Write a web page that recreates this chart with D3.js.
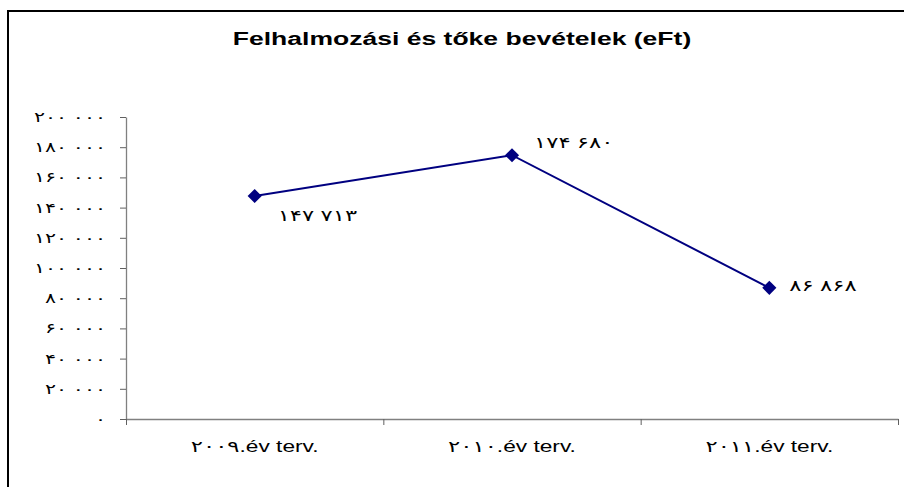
<!DOCTYPE html>
<html>
<head>
<meta charset="utf-8">
<script src="https://cdn.jsdelivr.net/npm/d3@7"></script>
<style>
  body { margin: 0; background: #fff; }
  svg { display: block; }
  text { font-family: "Liberation Sans", Arial, "DejaVu Sans", sans-serif; fill: #000; }
</style>
</head>
<body>
<div id="chart"></div>
<script>
// chart data
const categories = ["۲۰۰۹.év terv.", "۲۰۱۰.év terv.", "۲۰۱۱.év terv."];
const values = [147713, 174680, 86868];
const yTicks = [0, 20000, 40000, 60000, 80000, 100000, 120000, 140000, 160000, 180000, 200000];
const titleText = "Felhalmozási és tőke bevételek (eFt)";
// label offsets from the marker, per point
const labelOffsets = [[23, 25], [22, -7], [20, 3]];

const width = 904, height = 487;
const stretch = 1.42; // text in the reference is drawn wide

// persian digits, space as thousands separator
const fa = d3.formatLocale({
  decimal: ".",
  thousands: " ",
  grouping: [3],
  currency: ["", ""],
  numerals: ["۰", "۱", "۲", "۳", "۴", "۵", "۶", "۷", "۸", "۹"]
});
const fmt = fa.format(",d");

const svg = d3.select("#chart").append("svg")
  .attr("width", width)
  .attr("height", height);

// outer chart border (cut off at right and bottom)
svg.append("rect")
  .attr("x", 8).attr("y", 11)
  .attr("width", 1000).attr("height", 600)
  .attr("fill", "none")
  .attr("stroke", "#000")
  .attr("stroke-width", 2);

svg.append("text")
  .attr("transform", `translate(462,45) scale(${1.45},1)`)
  .attr("text-anchor", "middle")
  .style("font-size", "18.3px")
  .style("font-weight", "bold")
  .text(titleText);

const plot = {left: 126, right: 898, top: 117, bottom: 419};

const x = d3.scaleBand()
  .domain(categories)
  .range([plot.left, plot.right]);

const xEdge = d3.scaleLinear()
  .domain([0, categories.length])
  .range([plot.left, plot.right]);

const y = d3.scaleLinear()
  .domain([0, 200000])
  .range([plot.bottom, plot.top]);

// y axis
const gy = svg.append("g")
  .attr("transform", `translate(${plot.left},0)`)
  .call(d3.axisLeft(y).tickValues(yTicks).tickSize(6).tickSizeOuter(0).tickFormat(""));

gy.selectAll("text").remove();
gy.select(".domain").attr("stroke", "#808080").attr("stroke-width", 1.3);
gy.selectAll(".tick line").attr("stroke", "#606060");

svg.append("g").selectAll("text")
  .data(yTicks)
  .enter()
  .append("text")
  .attr("transform", d => `translate(106,${y(d) + 5}) scale(${stretch},1)`)
  .attr("text-anchor", "end")
  .style("font-size", "14.5px")
  .text(d => fmt(d));

// x axis, ticks between categories
const gx = svg.append("g")
  .attr("transform", `translate(0,${plot.bottom})`)
  .call(d3.axisBottom(xEdge).tickValues(d3.range(categories.length + 1)).tickSize(6).tickSizeOuter(0).tickFormat(""));

gx.select(".domain").attr("stroke", "#808080").attr("stroke-width", 1.3);
gx.selectAll(".tick line").attr("stroke", "#606060");

svg.append("g").selectAll("text")
  .data(categories)
  .enter()
  .append("text")
  .attr("transform", d => `translate(${x(d) + x.bandwidth() / 2},452) scale(${stretch},1)`)
  .attr("text-anchor", "middle")
  .style("font-size", "16px")
  .text(d => d);

// line
const pts = values.map((v, i) => ({cat: categories[i], v: v, off: labelOffsets[i]}));

const line = d3.line()
  .x(d => x(d.cat) + x.bandwidth() / 2)
  .y(d => y(d.v));

svg.append("path")
  .datum(pts)
  .attr("d", line)
  .attr("fill", "none")
  .attr("stroke", "#000080")
  .attr("stroke-width", 2);

const marker = d3.symbol().type(d3.symbolSquare).size(100);

svg.append("g").selectAll("path")
  .data(pts)
  .enter()
  .append("path")
  .attr("d", marker)
  .attr("transform", d => `translate(${x(d.cat) + x.bandwidth() / 2},${y(d.v)}) rotate(45)`)
  .attr("fill", "#000080");

svg.append("g").selectAll("text")
  .data(pts)
  .enter()
  .append("text")
  .attr("transform", d => `translate(${x(d.cat) + x.bandwidth() / 2 + d.off[0]},${y(d.v) + d.off[1]}) scale(${stretch},1)`)
  .style("font-size", "16px")
  .text(d => fmt(d.v));
</script>
</body>
</html>
